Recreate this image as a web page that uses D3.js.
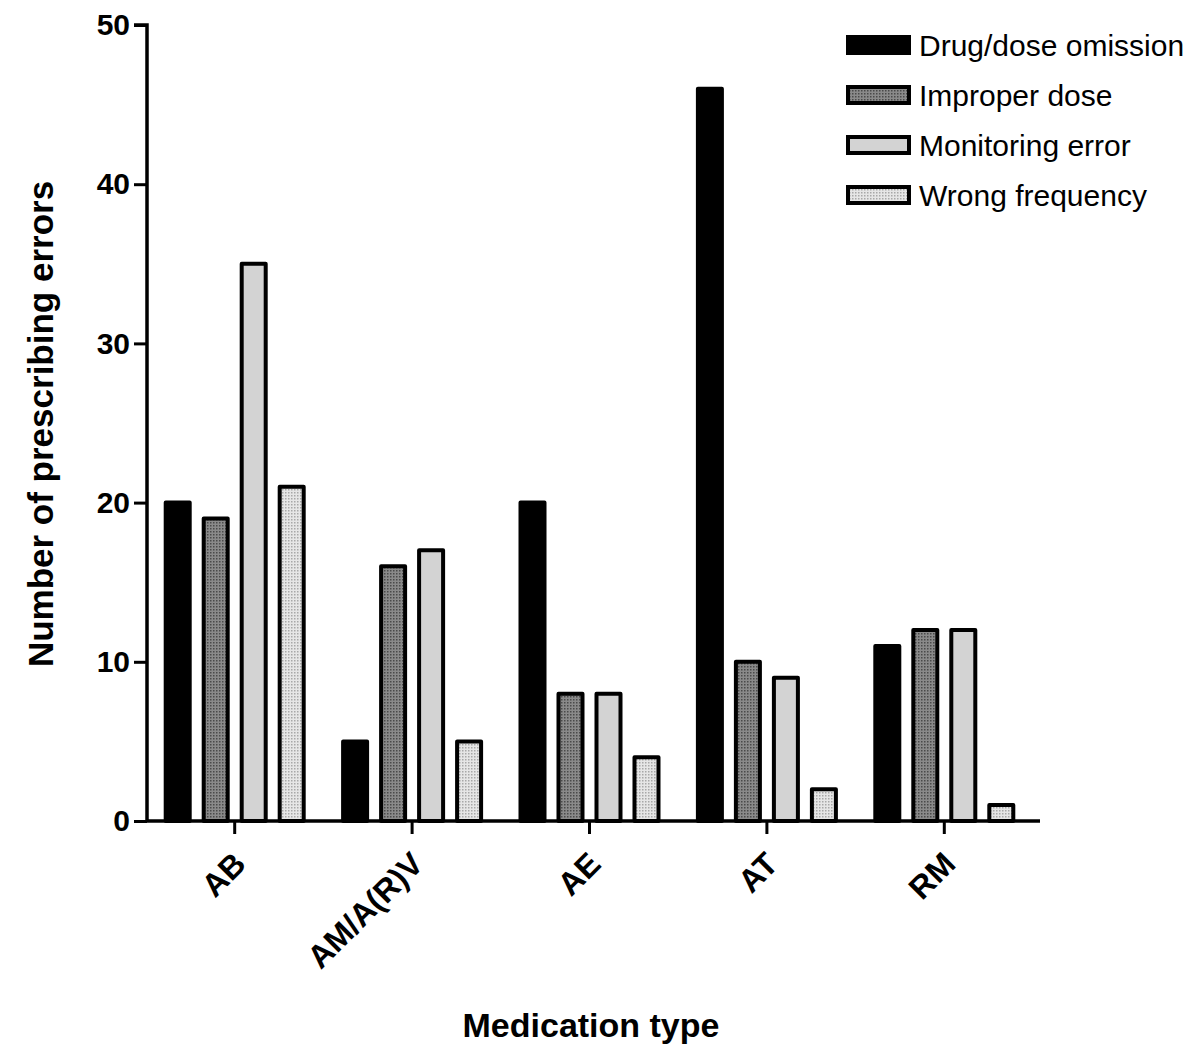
<!DOCTYPE html>
<html><head><meta charset="utf-8">
<script src="https://cdn.jsdelivr.net/npm/d3@7"></script>
<style>body{margin:0;background:#fff}svg{display:block}text{font-family:Arial,"Liberation Sans",sans-serif}</style>
</head><body>
<svg id="c" width="1200" height="1054"></svg>
<script>
const categories = ["AB", "AM/A(R)V", "AE", "AT", "RM"];
const seriesNames = ["Drug/dose omission", "Improper dose", "Monitoring error", "Wrong frequency"];
const drugDoseOmission = [20, 5, 20, 46, 11];
const improperDose = [19, 16, 8, 10, 12];
const monitoringError = [35, 17, 8, 9, 12];
const wrongFrequency = [21, 5, 4, 2, 1];
const yTicks = [0, 10, 20, 30, 40, 50];
const seriesValues = [drugDoseOmission, improperDose, monitoringError, wrongFrequency];

const svg = d3.select("#c");
const defs = svg.append("defs");
function dotPattern(id, bg, dot) {
  const p = defs.append("pattern").attr("id", id).attr("width", 3).attr("height", 3).attr("patternUnits", "userSpaceOnUse");
  p.append("rect").attr("width", 3).attr("height", 3).attr("fill", bg);
  p.append("rect").attr("width", 1.5).attr("height", 1.5).attr("fill", dot);
}
dotPattern("pImp", "#8a8a8a", "#4a4a4a");
dotPattern("pWrong", "#e6e6e6", "#a8a8a8");
const fills = ["#000", "url(#pImp)", "#d3d3d3", "url(#pWrong)"];

const m = {left: 147, right: 1040, top: 25, bottom: 821};
const x0 = d3.scaleBand().domain(categories).range([146, 1033]);
const x1 = d3.scaleBand().domain(d3.range(4)).range([-71, 71]).paddingInner(0.263);
const y = d3.scaleLinear().domain([0, 50]).range([m.bottom, m.top]);

// bars
const g = svg.append("g");
categories.forEach((c, i) => {
  seriesValues.forEach((vals, s) => {
    const cx = x0(c) + x0.bandwidth() / 2;
    g.append("rect")
      .attr("x", cx + x1(s) + 2)
      .attr("y", y(vals[i]))
      .attr("width", x1.bandwidth() - 4)
      .attr("height", y(0) - y(vals[i]))
      .attr("fill", fills[s])
      .attr("stroke", "#000").attr("stroke-width", 4).attr("stroke-linejoin", "round");
  });
});

// y axis
const ya = svg.append("g").attr("transform", `translate(${m.left},0)`)
  .call(d3.axisLeft(y).tickValues(yTicks).tickSize(13).tickPadding(4));
ya.select(".domain").attr("stroke-width", 3.5).attr("d", `M-13,${m.top}H0V${m.bottom}`);
ya.selectAll(".tick line").attr("stroke-width", 3);
ya.selectAll(".tick text").attr("font-size", 30).attr("font-weight", "bold").attr("fill", "#000");

// x axis
const xa = svg.append("g").attr("transform", `translate(0,${m.bottom})`)
  .call(d3.axisBottom(x0).tickSize(13));
xa.select(".domain").attr("stroke-width", 3.5).attr("d", `M${m.left},0H${m.right}`);
xa.selectAll(".tick line").attr("stroke-width", 3);
xa.selectAll(".tick text").attr("font-size", 32).attr("font-weight", "bold").attr("fill", "#000")
  .attr("text-anchor", "end").attr("x", 0).attr("y", 0).attr("dy", 0)
  .attr("transform", "translate(13,45) rotate(-45)");

// titles
svg.append("text").attr("transform", "translate(53,424) rotate(-90)").attr("text-anchor", "middle")
  .attr("font-size", 35).attr("font-weight", "bold").text("Number of prescribing errors");
svg.append("text").attr("x", 591).attr("y", 1037).attr("text-anchor", "middle")
  .attr("font-size", 34).attr("font-weight", "bold").text("Medication type");

// legend
const lg = svg.append("g");
seriesNames.forEach((n, s) => {
  const yy = 45 + s * 50;
  lg.append("rect").attr("x", 848).attr("y", yy - 8).attr("width", 61).attr("height", 16)
    .attr("fill", fills[s]).attr("stroke", "#000").attr("stroke-width", 4);
  lg.append("text").attr("x", 919).attr("y", yy).attr("dy", "0.36em").attr("font-size", 30).text(n);
});
</script>
</body></html>
